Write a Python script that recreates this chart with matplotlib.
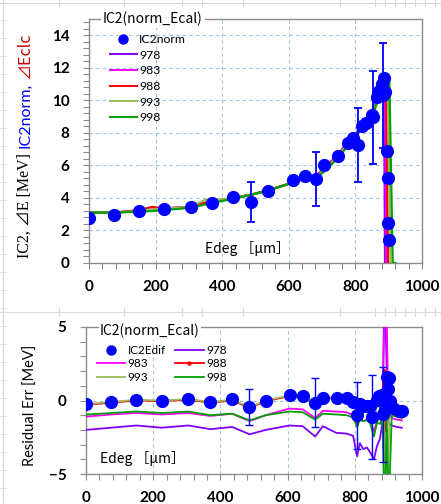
import matplotlib
matplotlib.use('Agg')
import matplotlib.pyplot as plt
from matplotlib.ticker import MultipleLocator
from matplotlib.lines import Line2D

# ---------------- data: top chart ----------------
series_names = ["978", "983", "988", "993", "998"]
series_colors = ["#8000FF", "#FF00FF", "#FF0000", "#9BBB59", "#00A000"]

top_pts_x = [0, 75, 150, 225, 306, 370, 433, 486, 537, 613, 649, 682, 706, 747, 778, 793,
             808, 820, 832, 849, 853, 864, 871, 880, 883, 885, 889, 895, 898, 898, 901]
top_pts_y = [2.76, 2.94, 3.19, 3.3, 3.43, 3.7, 4.05, 3.74, 4.42, 5.09, 5.34, 5.15, 6.0, 6.56, 7.36, 7.7,
             7.24, 8.4, 8.6, 9.08, 8.95, 10.2, 10.6, 11.0, 10.3, 11.4, 10.5, 6.9, 5.2, 2.45, 1.4]
top_pts_err = [0, 0, 0, 0, 0, 0, 0, 1.25, 0, 0, 0, 1.65, 0, 0, 0, 0,
               2.27, 0, 0, 0, 2.85, 0, 0, 0, 3.2, 0, 0, 0, 0, 0, 0]

top_x_978 = [0, 75, 150, 190, 225, 305, 350, 370, 435, 487, 535, 605, 645, 682, 705, 745, 775, 795, 808, 825, 845, 857, 866, 875, 883, 886, 889, 896]
top_y_978 = [3.1, 3.1, 3.2, 3.3, 3.35, 3.45, 3.7, 3.8, 4.0, 4.2, 4.45, 4.9, 5.2, 5.35, 5.8, 6.6, 7.35, 7.75, 8.15, 8.7, 9.2, 9.6, 10.1, 10.7, 11.1, 11.4, 0.0, 0.0]
top_x_983 = [0, 75, 150, 190, 225, 305, 350, 370, 435, 487, 535, 605, 645, 682, 705, 745, 775, 795, 808, 825, 845, 857, 866, 875, 883, 889, 893, 900]
top_y_983 = [3.1, 3.1, 3.2, 3.3, 3.35, 3.45, 3.7, 3.8, 4.0, 4.2, 4.45, 4.9, 5.2, 5.35, 5.8, 6.6, 7.3, 7.7, 8.1, 8.65, 9.15, 9.55, 10.05, 10.65, 11.0, 11.4, 0.0, 0.0]
top_x_988 = [0, 75, 150, 190, 225, 305, 350, 370, 435, 487, 535, 605, 645, 682, 705, 745, 775, 795, 808, 825, 845, 857, 866, 875, 883, 892, 898, 905]
top_y_988 = [3.1, 3.1, 3.25, 3.45, 3.35, 3.45, 3.7, 3.8, 4.0, 4.2, 4.45, 4.9, 5.2, 5.35, 5.75, 6.55, 7.3, 7.7, 8.05, 8.6, 9.1, 9.5, 10.0, 10.6, 10.95, 11.4, 0.0, 0.0]
top_x_993 = [0, 75, 150, 190, 225, 305, 350, 370, 435, 487, 535, 605, 645, 682, 705, 745, 775, 795, 808, 825, 845, 857, 866, 875, 883, 897, 905, 912]
top_y_993 = [3.1, 3.1, 3.2, 3.3, 3.35, 3.45, 3.9, 3.85, 4.0, 4.2, 4.45, 4.9, 5.2, 5.3, 5.7, 6.5, 7.25, 7.65, 8.0, 8.55, 9.05, 9.45, 9.95, 10.5, 10.9, 11.3, 0.0, 0.0]
top_x_998 = [0, 75, 150, 190, 225, 305, 350, 370, 435, 487, 535, 605, 645, 682, 705, 745, 775, 795, 808, 825, 845, 857, 866, 875, 883, 902, 912, 920]
top_y_998 = [3.1, 3.1, 3.15, 3.2, 3.25, 3.4, 3.6, 3.7, 3.95, 4.2, 4.45, 4.9, 5.15, 5.25, 5.6, 6.4, 7.15, 7.55, 7.95, 8.5, 9.0, 9.4, 9.9, 10.45, 10.85, 11.2, 0.0, 0.0]

# ---------------- data: bottom chart (residuals) ----------------
bot_pts_x = [0, 74, 149, 226, 304, 369, 435, 485, 536, 607, 646, 682, 705, 747, 777, 795, 807, 815,
             824, 836, 845, 851, 866, 872, 881, 884, 890, 896, 899, 902, 905, 914, 932, 940]
bot_pts_y = [-0.27, -0.1, 0.05, -0.05, 0.1, -0.1, 0.1, -0.45, 0.0, 0.4, 0.33, -0.15, 0.2, 0.2, 0.2, -0.1, -1.0, -0.27,
             -0.4, -0.4, -0.4, -1.1, 0.05, 0.3, 0.4, -0.95, -0.5, 1.6, 0.8, 1.5, -0.05, -0.5, -0.7, -0.7]
bot_pts_err = [0, 0, 0, 0, 0, 0, 0, 1.25, 0, 0, 0, 1.65, 0, 0, 0, 0, 2.27, 0,
               0, 0, 0, 2.85, 0, 0, 0, 3.2, 0, 0, 0, 0, 0, 0, 0, 0]

bot_x = [0, 75, 150, 225, 305, 370, 435, 487, 535, 605, 645, 682, 705, 745, 775, 795, 807, 815, 825,
         836, 845, 857, 866, 875, 882, 887, 891, 895, 899, 903, 910, 925, 940]
bot_y_978 = [-2.0, -1.85, -1.7, -1.85, -1.7, -1.95, -1.8, -2.3, -2.0, -1.7, -1.75, -2.45, -1.75, -2.2, -2.25, -2.4, -3.8, -2.9, -3.3,
             -3.2, -3.5, -4.0, -3.1, -2.6, -1.5, 6.0, 6.0, 2.0, -1.0, -1.6, -1.7, -1.8, -1.85]
bot_y_983 = [-1.1, -0.95, -0.85, -0.95, -0.85, -1.05, -0.9, -1.4, -1.0, -0.55, -0.6, -1.2, -0.7, -0.75, -0.8, -1.0, -1.65, -1.2, -1.4,
             -1.3, -1.4, -2.1, -1.4, -1.2, -0.7, 4.5, 6.0, 6.0, 0.0, -0.9, -1.2, -1.3, -1.35]
bot_y_988 = [-0.3, -0.15, 0.0, -0.05, 0.05, -0.15, 0.0, -0.5, -0.05, 0.3, 0.25, -0.2, 0.15, 0.15, 0.1, -0.05, -0.7, -0.3, -0.45,
             -0.4, -0.45, -1.1, -0.2, 0.2, 0.5, 2.0, -2.0, 1.5, 0.5, -0.3, -0.6, -0.7, -0.75]
bot_y_993 = [-0.25, -0.1, 0.05, 0.0, 0.1, -0.1, 0.05, -0.45, 0.0, 0.35, 0.3, -0.15, 0.2, 0.2, 0.15, 0.0, -0.9, -0.4, -0.6,
             -0.5, -0.6, -1.2, -0.4, -0.3, 0.0, -2.0, -5.0, -2.0, -5.5, -1.0, -0.7, -0.8, -0.8]
bot_y_998 = [-0.96, -0.85, -0.75, -0.85, -0.75, -1.0, -0.9, -1.35, -1.0, -0.75, -0.8, -1.3, -0.9, -0.95, -1.0, -1.15, -1.8, -1.3, -1.4,
             -1.35, -1.5, -2.45, -1.5, -1.6, -1.0, -6.0, -6.0, -1.0, -6.0, -6.0, -1.0, -1.1, -1.2]

x_ticks = [0, 200, 400, 600, 800, 1000]
top_y_ticks = [0, 2, 4, 6, 8, 10, 12, 14]
bot_y_ticks = [-5, 0, 5]

# ---------------- figure ----------------
W, H = 441, 504
fig = plt.figure(figsize=(W / 100, H / 100), dpi=100)
fig.patch.set_facecolor('white')


def fx(px):
    return px / W


def fy(py):
    return 1 - py / H


# faint spreadsheet background lines
bg = '#D9D9D9'
fig.add_artist(Line2D([0, 1], [fy(3), fy(3)], color=bg, lw=0.8))
fig.add_artist(Line2D([0, 1], [fy(312), fy(312)], color=bg, lw=0.8))
fig.add_artist(Line2D([fx(3), fx(3)], [0, 1], color=bg, lw=0.8))
for cx in [59, 124, 182, 202, 243, 340, 375, 385, 395, 405, 415, 425, 435]:
    fig.add_artist(Line2D([fx(cx), fx(cx)], [fy(0), fy(6)], color=bg, lw=0.8))
    fig.add_artist(Line2D([fx(cx), fx(cx)], [fy(308), fy(316)], color=bg, lw=0.8))
for ry in range(20, 504, 18):
    fig.add_artist(Line2D([fx(0), fx(6)], [fy(ry), fy(ry)], color=bg, lw=0.6))

ax1 = fig.add_axes([fx(89), fy(263), fx(422) - fx(89), fy(19) - fy(263)])
ax2 = fig.add_axes([fx(86), fy(474), fx(422) - fx(86), fy(327) - fy(474)])

frame_col = '#8C8C8C'
for ax in (ax1, ax2):
    for s in ax.spines.values():
        s.set_color(frame_col)
        s.set_linewidth(1.0)
    ax.set_xlim(0, 1000)
    ax.set_xticks(x_ticks)
    ax.xaxis.set_minor_locator(MultipleLocator(40))
    ax.tick_params(which='both', direction='out', length=4, width=0.8, color=frame_col)
    ax.tick_params(axis='x', which='major', pad=8, labelsize=11)
    ax.tick_params(axis='y', which='major', pad=10, labelsize=11)
    ax.grid(True, which='major', linestyle=(0, (3, 3)), color='#9DC3E6', linewidth=0.8)
    ax.set_axisbelow(True)

ax1.set_ylim(0, 15)
ax1.set_yticks(top_y_ticks)
ax1.yaxis.set_minor_locator(MultipleLocator(0.4))
ax2.set_ylim(-5, 5)
ax2.set_yticks(bot_y_ticks)
ax2.yaxis.set_minor_locator(MultipleLocator(1))

for ax in (ax1, ax2):
    for lbl in ax.get_xticklabels() + ax.get_yticklabels():
        lbl.set_fontweight('bold')
        lbl.set_family('Lato')

# ---------------- top chart ----------------
top_lines = [(top_x_978, top_y_978), (top_x_983, top_y_983), (top_x_988, top_y_988),
             (top_x_993, top_y_993), (top_x_998, top_y_998)]
handles = [Line2D([], [], marker='o', color='#0000FF', linestyle='none', markersize=6.5)]
for (xx, yy), name, col in zip(top_lines, series_names, series_colors):
    ax1.plot(xx, yy, color=col, lw=1.6, zorder=3)
    handles.append(Line2D([], [], color=col, lw=1.4))
ax1.errorbar(top_pts_x, top_pts_y, yerr=top_pts_err, fmt='o', color='#0000FF', ms=8.5,
             elinewidth=1.3, capsize=3, capthick=1.3, zorder=5)
ax1.legend(handles, ["IC2norm"] + series_names, loc='upper left',
           bbox_to_anchor=(fx(110), fy(34)), bbox_transform=fig.transFigure,
           frameon=False, borderpad=0, borderaxespad=0, handlelength=2.2,
           handletextpad=0.2, labelspacing=0.38, prop={'family': 'Lato', 'size': 8.8})

ax1.text(0.042, 1.0, "IC2(norm_Ecal)", transform=ax1.transAxes, ha='left', va='center',
         fontsize=10, family=['Noto Sans CJK JP', 'DejaVu Sans'],
         bbox=dict(facecolor='white', edgecolor='none', pad=1.5), zorder=10, clip_on=False)
ax1.text(348, 0.92, "Edeg ［μm］", ha='left', va='center', fontsize=10,
         family=['Noto Sans CJK JP', 'DejaVu Sans'], zorder=6)

# ---------------- bottom chart ----------------
bot_lines = [bot_y_978, bot_y_983, bot_y_988, bot_y_993, bot_y_998]
h2 = {}
for yy, name, col in zip(bot_lines, series_names, series_colors):
    if name == "988":
        ln, = ax2.plot(bot_x, yy, color=col, lw=1.3, marker='o', ms=2.2, zorder=3)
    else:
        ln, = ax2.plot(bot_x, yy, color=col, lw=1.3, zorder=3)
    h2[name] = ln
ax2.errorbar(bot_pts_x, bot_pts_y, yerr=bot_pts_err, fmt='o', color='#0000FF', ms=8.5,
             elinewidth=1.0, capsize=3, capthick=1.0, zorder=5)
pt_handle = Line2D([], [], marker='o', color='#0000FF', linestyle='none', markersize=6.5)
leg_handles = [pt_handle, h2["983"], h2["993"], h2["978"], h2["988"], h2["998"]]
leg_labels = ["IC2Edif", "983", "993", "978", "988", "998"]
ax2.legend(leg_handles, leg_labels, ncol=2, loc='upper left',
           bbox_to_anchor=(fx(97), fy(345)), bbox_transform=fig.transFigure,
           frameon=False, borderpad=0, borderaxespad=0, handlelength=2.4,
           handletextpad=0.2, labelspacing=0.2, columnspacing=0.8,
           prop={'family': 'Lato', 'size': 8.5})

ax2.text(0.042, 0.972, "IC2(norm_Ecal)", transform=ax2.transAxes, ha='left', va='center',
         fontsize=10, family=['Noto Sans CJK JP', 'DejaVu Sans'],
         bbox=dict(facecolor='white', edgecolor='none', pad=1.0), zorder=10, clip_on=False)
ax2.text(42, -3.97, "Edeg ［μm］", ha='left', va='center', fontsize=10,
         family=['Noto Sans CJK JP', 'DejaVu Sans'], zorder=6)

fig.text(fx(31), fy(405), "Residual Err [MeV]", rotation=90, ha='center', va='center',
         fontsize=10.5, family='Lato')

# ---------------- multi-colour y label (top) ----------------
fig.canvas.draw()
renderer = fig.canvas.get_renderer()
parts = [("IC2, ⊿E [MeV]", 'black', ['Liberation Serif', 'Noto Sans CJK JP', 'DejaVu Sans'], 5),
         ("IC2norm,", '#0000FF', ['Lato', 'DejaVu Sans'], 4),
         ("⊿Eclc", '#CC0000', ['Noto Sans CJK JP', 'DejaVu Sans'], 0)]
ycur = fy(258)
for s, col, fam, gap in parts:
    t = fig.text(fx(25), ycur, s, rotation=90, ha='center', va='bottom', color=col,
                 fontsize=11.5, family=fam)
    bb = t.get_window_extent(renderer)
    ycur = (bb.y1 + gap) / fig.bbox.height

fig.savefig('out.png', dpi=100, facecolor='white')
